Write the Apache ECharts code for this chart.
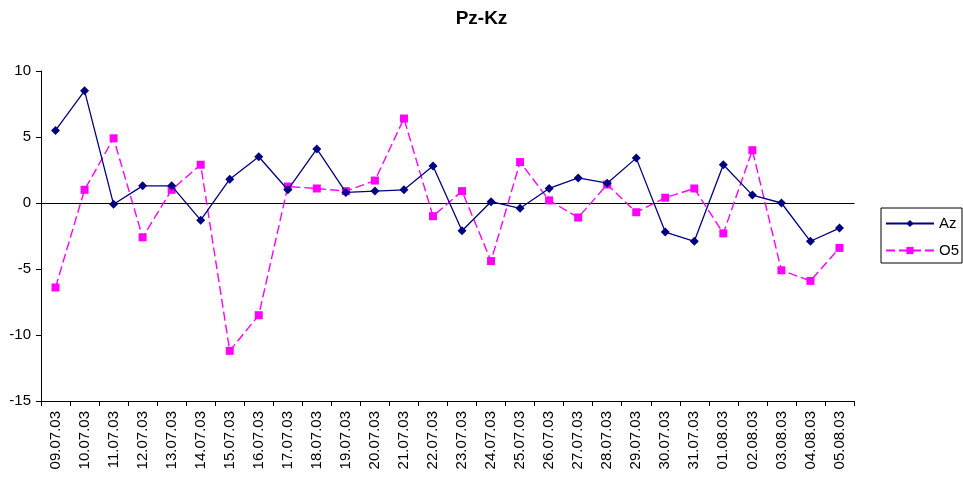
<!DOCTYPE html>
<html>
<head>
<meta charset="utf-8">
<script src="https://cdn.jsdelivr.net/npm/echarts@6/dist/echarts.min.js"></script>
<style>html,body{margin:0;padding:0;background:#fff}#c{width:963px;height:477px}</style>
</head>
<body>
<div id="c"></div>
<script>
const categories = ['09.07.03','10.07.03','11.07.03','12.07.03','13.07.03','14.07.03','15.07.03','16.07.03','17.07.03','18.07.03','19.07.03','20.07.03','21.07.03','22.07.03','23.07.03','24.07.03','25.07.03','26.07.03','27.07.03','28.07.03','29.07.03','30.07.03','31.07.03','01.08.03','02.08.03','03.08.03','04.08.03','05.08.03'];
const azValues = [5.5, 8.5, -0.1, 1.3, 1.3, -1.3, 1.8, 3.5, 1.0, 4.1, 0.8, 0.9, 1.0, 2.8, -2.1, 0.1, -0.4, 1.1, 1.9, 1.5, 3.4, -2.2, -2.9, 2.9, 0.6, 0.0, -2.9, -1.9];
const o5Values = [-6.4, 1.0, 4.9, -2.6, 1.0, 2.9, -11.2, -8.5, 1.25, 1.1, 0.9, 1.7, 6.4, -1.0, 0.9, -4.4, 3.1, 0.2, -1.1, 1.4, -0.7, 0.4, 1.1, -2.3, 4.0, -5.1, -5.9, -3.4];
const yTicks = { min: -15, max: 10, interval: 5 };
const titleText = 'Pz-Kz';

const FONT = '"Liberation Sans", Arial, sans-serif';
const chart = echarts.init(document.getElementById('c'), null, { renderer: 'canvas' });
chart.setOption({
  animation: false,
  backgroundColor: '#ffffff',
  textStyle: { fontFamily: FONT, color: '#000' },
  title: {
    text: titleText, left: 'center', top: 9, padding: 0,
    textStyle: { fontFamily: FONT, fontSize: 19, fontWeight: 'bold', color: '#000' }
  },
  legend: {
    orient: 'vertical', left: 881, top: 208,
    padding: [8, 3, 5, 4], itemGap: 12, itemWidth: 48, itemHeight: 9,
    borderColor: '#000', borderWidth: 1,
    textStyle: { fontFamily: FONT, fontSize: 15, color: '#000' },
    data: ['Az', 'O5']
  },
  grid: { left: 41, right: 109, top: 71, height: 330, containLabel: false },
  xAxis: [{
    type: 'category', data: categories, boundaryGap: true, position: 'bottom',
    axisLine: { onZero: false, lineStyle: { color: '#000', width: 1 } },
    axisTick: { show: true, alignWithLabel: false, length: 5, lineStyle: { color: '#000' } },
    axisLabel: { rotate: 90, interval: 0, margin: 10, fontFamily: FONT, fontSize: 15, color: '#000' },
    splitLine: { show: false }
  }, {
    type: 'category', data: categories, boundaryGap: true, position: 'bottom',
    axisLine: { onZero: true, lineStyle: { color: '#000', width: 1 } },
    axisTick: { show: false }, axisLabel: { show: false }, splitLine: { show: false }
  }],
  yAxis: {
    type: 'value', min: yTicks.min, max: yTicks.max, interval: yTicks.interval,
    axisLine: { show: true, lineStyle: { color: '#000', width: 1 } },
    axisTick: { show: true, length: 5, lineStyle: { color: '#000' } },
    axisLabel: { margin: 10, fontFamily: FONT, fontSize: 15, color: '#000' },
    splitLine: { show: false }
  },
  series: [{
    name: 'Az', type: 'line', data: azValues, xAxisIndex: 0,
    symbol: 'diamond', symbolSize: 9, showAllSymbol: true,
    itemStyle: { color: '#000080' },
    lineStyle: { color: '#000080', width: 1.3 },
    z: 3
  }, {
    name: 'O5', type: 'line', data: o5Values, xAxisIndex: 0,
    symbol: 'rect', symbolSize: 8, showAllSymbol: true,
    itemStyle: { color: '#FF00FF' },
    lineStyle: { color: '#FF00FF', width: 1.4, type: [9, 4] },
    z: 2
  }]
});
</script>
</body>
</html>
